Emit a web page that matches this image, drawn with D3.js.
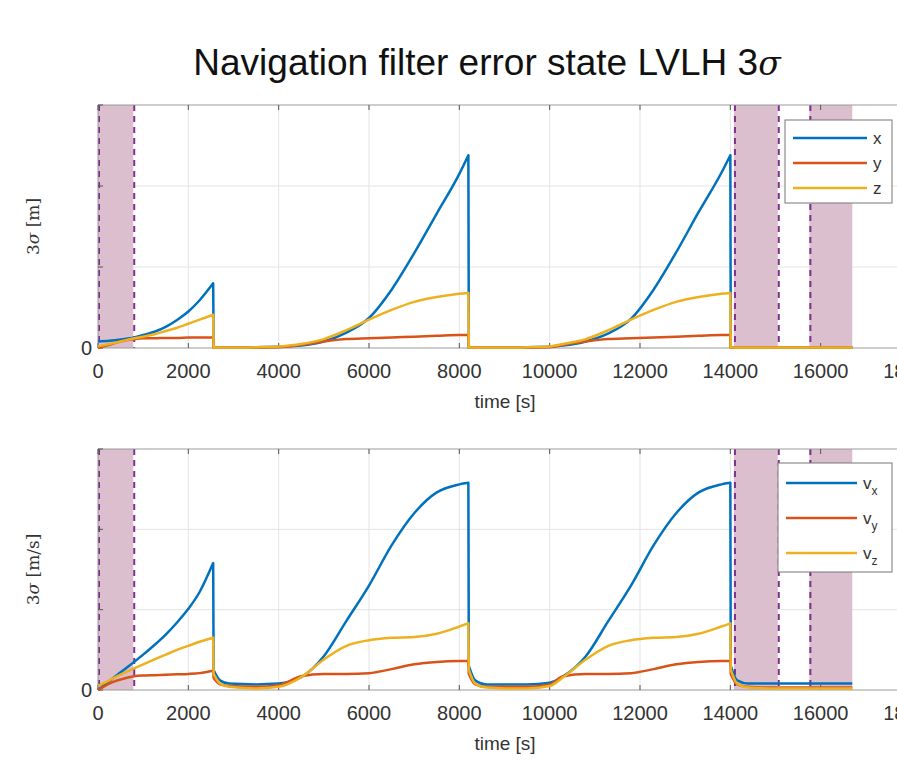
<!DOCTYPE html>
<html>
<head>
<meta charset="utf-8">
<script src="https://cdn.jsdelivr.net/npm/d3@7"></script>
<style>
body { margin: 0; background: #fff; }
svg { display: block; font-family: 'Liberation Sans', Arial, sans-serif; }
</style>
</head>
<body>
<div id="chart"></div>
<script>
// time samples [s] shared by all series
const time = [0, 250, 500, 800, 1000, 1250, 1500, 1750, 2000, 2250, 2550, 2560, 2700, 2900, 3500, 4000,
    4500, 5000, 5500, 6000, 6500, 7000, 7500, 8000, 8200, 8210, 8350, 8600, 9000, 9500, 10000,
    10300, 10800, 11300, 11800, 12300, 12800, 13300, 13800, 14000, 14010, 14150, 14400, 15000, 15500, 16000, 16700];

// position 3-sigma (grid units)
const posX = [0.08, 0.09, 0.105, 0.13, 0.16, 0.2, 0.26, 0.345, 0.45, 0.59, 0.8, 0.01, 0.01, 0.01, 0.01, 0.015,
    0.03, 0.08, 0.19, 0.37, 0.72, 1.17, 1.66, 2.15, 2.38, 0.01, 0.01, 0.01, 0.01, 0.01, 0.015,
    0.03, 0.08, 0.18, 0.36, 0.72, 1.18, 1.68, 2.16, 2.38, 0.01, 0.01, 0.01, 0.01, 0.01, 0.01, 0.01];
const posY = [0, 0.04, 0.08, 0.11, 0.12, 0.12, 0.125, 0.125, 0.13, 0.13, 0.13, 0.005, 0.005, 0.005, 0.005, 0.01,
    0.04, 0.08, 0.11, 0.12, 0.13, 0.14, 0.15, 0.16, 0.16, 0.005, 0.005, 0.005, 0.005, 0.005, 0.01,
    0.04, 0.08, 0.11, 0.12, 0.13, 0.14, 0.15, 0.16, 0.16, 0.005, 0.005, 0.005, 0.005, 0.005, 0.005, 0.005];
const posZ = [0.02, 0.05, 0.08, 0.12, 0.14, 0.17, 0.21, 0.25, 0.3, 0.35, 0.41, 0.005, 0.005, 0.005, 0.01, 0.02,
    0.05, 0.11, 0.22, 0.35, 0.47, 0.57, 0.63, 0.67, 0.68, 0.005, 0.005, 0.005, 0.005, 0.01, 0.02,
    0.05, 0.11, 0.22, 0.35, 0.47, 0.57, 0.63, 0.67, 0.68, 0.005, 0.005, 0.005, 0.005, 0.005, 0.005, 0.005];

// velocity 3-sigma (grid units)
const velX = [0, 0.11, 0.22, 0.35, 0.44, 0.56, 0.69, 0.84, 1.01, 1.22, 1.58, 0.25, 0.12, 0.08, 0.07, 0.08,
    0.16, 0.42, 0.86, 1.3, 1.8, 2.2, 2.46, 2.56, 2.58, 0.3, 0.12, 0.07, 0.07, 0.07, 0.09,
    0.17, 0.42, 0.86, 1.3, 1.8, 2.2, 2.46, 2.56, 2.58, 0.3, 0.12, 0.08, 0.08, 0.08, 0.08, 0.08];
const velY = [0, 0.08, 0.13, 0.17, 0.18, 0.185, 0.19, 0.195, 0.2, 0.21, 0.24, 0.15, 0.07, 0.05, 0.04, 0.06,
    0.17, 0.2, 0.2, 0.21, 0.26, 0.32, 0.35, 0.36, 0.36, 0.2, 0.07, 0.04, 0.04, 0.04, 0.07,
    0.17, 0.2, 0.2, 0.21, 0.26, 0.32, 0.35, 0.36, 0.36, 0.2, 0.07, 0.04, 0.03, 0.03, 0.03, 0.03];
const velZ = [0.05, 0.12, 0.19, 0.27, 0.32, 0.38, 0.44, 0.5, 0.55, 0.6, 0.65, 0.2, 0.08, 0.04, 0.02, 0.04,
    0.16, 0.38, 0.55, 0.62, 0.65, 0.66, 0.7, 0.79, 0.83, 0.25, 0.08, 0.03, 0.02, 0.02, 0.05,
    0.16, 0.38, 0.55, 0.62, 0.65, 0.66, 0.7, 0.79, 0.83, 0.25, 0.08, 0.03, 0.02, 0.02, 0.02, 0.02];

const xTicks = [0, 2000, 4000, 6000, 8000, 10000, 12000, 14000, 16000, 18000];
const yTicks = [0, 1, 2, 3];
const phases = [[0, 780], [14080, 15050], [15750, 16700]];
const phaseEdges = [0, 780, 14080, 15050, 15750];
const axisLabels = ['x', 'y', 'z'];

const colors = ['#0072bd', '#d95319', '#edb120'];
const width = 897, height = 764;

const svg = d3.select('#chart').append('svg')
    .attr('width', width)
    .attr('height', height);

// title
const title = svg.append('text')
    .attr('x', 487).attr('y', 75)
    .attr('text-anchor', 'middle')
    .style('font-size', '37px')
    .attr('fill', '#111');
title.append('tspan').text('Navigation filter error state LVLH 3');
title.append('tspan').text('σ').style('font-style', 'italic').style('font-family', 'DejaVu Serif, serif').style('font-size', '33px');

const x = d3.scaleLinear().domain([0, 18000]).range([98, 911]);

// split a series where the filter resets (near-vertical drops), so the
// monotone curve keeps sharp peaks
const segments = (values) => {
    const segs = [[]];
    values.forEach((v, i) => {
        if (i > 0 && time[i] - time[i - 1] <= 10) segs.push([]);
        segs[segs.length - 1].push([time[i], v]);
    });
    return segs;
};

const drawPanel = (cfg) => {
    const y = d3.scaleLinear().domain([0, 3]).range([cfg.bottom, cfg.top]);
    const g = svg.append('g');

    // grid
    g.selectAll('.vgrid').data(xTicks.slice(1)).enter().append('line')
        .attr('x1', d => x(d)).attr('x2', d => x(d))
        .attr('y1', cfg.top).attr('y2', cfg.bottom)
        .attr('stroke', '#e3e3e3').attr('stroke-width', 1);
    g.selectAll('.hgrid').data(yTicks.slice(1, 3)).enter().append('line')
        .attr('x1', x(0)).attr('x2', width)
        .attr('y1', d => y(d)).attr('y2', d => y(d))
        .attr('stroke', '#e3e3e3').attr('stroke-width', 1);

    // manoeuvre phases
    g.selectAll('.phase').data(phases).enter().append('rect')
        .attr('x', d => x(d[0])).attr('width', d => x(d[1]) - x(d[0]))
        .attr('y', cfg.top).attr('height', cfg.bottom - cfg.top)
        .attr('fill', '#dcbfce');
    g.selectAll('.edge').data(phaseEdges).enter().append('line')
        .attr('x1', d => x(d) + 1).attr('x2', d => x(d) + 1)
        .attr('y1', cfg.top).attr('y2', cfg.bottom)
        .attr('stroke', '#7e2f8e').attr('stroke-width', 2)
        .attr('stroke-dasharray', '6,5');

    // axes box
    g.append('line').attr('x1', x(0)).attr('x2', width).attr('y1', cfg.top).attr('y2', cfg.top)
        .attr('stroke', '#9a9a9a');
    g.append('line').attr('x1', x(0)).attr('x2', width).attr('y1', cfg.bottom).attr('y2', cfg.bottom)
        .attr('stroke', '#9a9a9a');
    g.append('line').attr('x1', x(0)).attr('x2', x(0)).attr('y1', cfg.top).attr('y2', cfg.bottom)
        .attr('stroke', '#9a9a9a');

    // inward ticks
    g.selectAll('.xtb').data(xTicks).enter().append('line')
        .attr('x1', d => x(d)).attr('x2', d => x(d))
        .attr('y1', cfg.bottom).attr('y2', cfg.bottom - 5).attr('stroke', '#555');
    g.selectAll('.xtt').data(xTicks).enter().append('line')
        .attr('x1', d => x(d)).attr('x2', d => x(d))
        .attr('y1', cfg.top).attr('y2', cfg.top + 5).attr('stroke', '#555');
    g.selectAll('.yt').data(yTicks).enter().append('line')
        .attr('x1', x(0)).attr('x2', x(0) + 5)
        .attr('y1', d => y(d)).attr('y2', d => y(d)).attr('stroke', '#555');

    // tick labels
    g.selectAll('.xl').data(xTicks).enter().append('text')
        .attr('x', d => x(d)).attr('y', cfg.bottom + 30)
        .attr('text-anchor', 'middle')
        .style('font-size', '20px').attr('fill', '#333')
        .text(d => d);
    g.append('text').attr('x', 92).attr('y', cfg.bottom + 7)
        .attr('text-anchor', 'end')
        .style('font-size', '20px').attr('fill', '#333')
        .text('0');
    g.append('text').attr('x', 505).attr('y', cfg.bottom + 60)
        .attr('text-anchor', 'middle')
        .style('font-size', '19px').attr('fill', '#333')
        .text('time [s]');

    // y label
    const yl = g.append('text')
        .attr('transform', `translate(39, ${(cfg.top + cfg.bottom) / 2}) rotate(-90)`)
        .attr('text-anchor', 'middle')
        .style('font-family', 'DejaVu Serif, serif')
        .style('font-size', '17px').attr('fill', '#333');
    yl.append('tspan').text('3');
    yl.append('tspan').text('σ').style('font-style', 'italic');
    yl.append('tspan').text(' ' + cfg.unit);

    // series
    const line = d3.line()
        .x(d => x(d[0]))
        .y(d => y(d[1]))
        .curve(d3.curveMonotoneX);
    const pathOf = (values) => segments(values)
        .map((s, k) => k > 0 ? line(s).replace(/^M/, 'L') : line(s))
        .join('');
    g.selectAll('.series').data(cfg.series).enter().append('path')
        .attr('d', d => pathOf(d))
        .attr('fill', 'none')
        .attr('stroke', (d, i) => colors[i])
        .attr('stroke-width', 2.5)
        .attr('stroke-linejoin', 'round');

    // legend
    const lg = g.append('g');
    lg.append('rect')
        .attr('x', cfg.legend.x).attr('y', cfg.legend.y)
        .attr('width', cfg.legend.w).attr('height', cfg.legend.h)
        .attr('fill', '#fff').attr('stroke', '#777').attr('stroke-width', 1);
    const rows = lg.selectAll('.row').data(axisLabels).enter().append('g')
        .attr('transform', (d, i) => `translate(0, ${cfg.legend.y + cfg.legend.first + i * cfg.legend.step})`);
    rows.append('line')
        .attr('x1', cfg.legend.x + 8).attr('x2', cfg.legend.x + cfg.legend.line)
        .attr('stroke', (d, i) => colors[i]).attr('stroke-width', 2.5);
    const lt = rows.append('text')
        .attr('x', cfg.legend.x + cfg.legend.line + 6).attr('y', 6)
        .style('font-size', '17px').attr('fill', '#333');
    if (cfg.sub) {
        lt.append('tspan').text('v');
        lt.append('tspan').attr('dy', 6).style('font-size', '12px').text(d => d);
    } else {
        lt.text(d => d);
    }
};

drawPanel({
    top: 105, bottom: 348, unit: '[m]',
    series: [posX, posY, posZ], sub: false,
    legend: { x: 785, y: 120, w: 107, h: 83, first: 18, step: 25, line: 82 }
});

drawPanel({
    top: 449, bottom: 690, unit: '[m/s]',
    series: [velX, velY, velZ], sub: true,
    legend: { x: 778, y: 463, w: 114, h: 109, first: 20, step: 35, line: 79 }
});
</script>
</body>
</html>
